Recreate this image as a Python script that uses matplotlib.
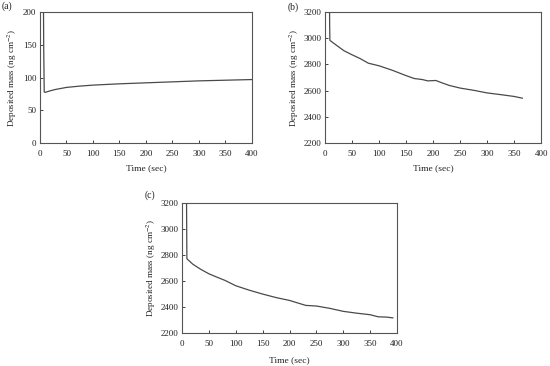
import matplotlib
matplotlib.use("Agg")
import matplotlib.pyplot as plt

plt.rcParams['font.family'] = ['Liberation Serif', 'DejaVu Serif']
plt.rcParams['mathtext.fontset'] = 'stix'

# Panel (a)
a_time = [6, 7, 8, 10, 20, 30, 50, 75, 100, 150, 200, 250, 300, 350, 400]
a_mass = [300, 150, 78, 77.5, 80, 82, 85, 87, 88.5, 90.5, 92, 93.5, 95, 96, 97]
# Panel (b)
b_time = [8, 8.5, 9, 20, 35, 50, 65, 80, 100, 125, 150, 165, 180, 190, 205, 215, 230, 250, 275, 300, 325, 350, 365]
b_mass = [3500, 3100, 2984, 2950, 2905, 2874, 2845, 2810, 2790, 2755, 2715, 2693, 2685, 2675, 2678, 2662, 2640, 2620, 2603, 2583, 2570, 2556, 2543]
# Panel (c)
c_time = [8, 8.5, 9, 20, 35, 50, 65, 80, 100, 125, 150, 175, 200, 215, 230, 250, 275, 300, 325, 350, 365, 380, 392]
c_mass = [3500, 3100, 2772, 2730, 2690, 2656, 2630, 2605, 2564, 2530, 2500, 2473, 2451, 2432, 2413, 2408, 2390, 2367, 2353, 2341, 2325, 2323, 2317]

panels = [
    ("(a)", a_time, a_mass, (0, 200), [0, 50, 100, 150, 200],
     [0.0727, 0.609, 0.385, 0.358], -0.13, -0.19, (-0.18, 1.046)),
    ("(b)", b_time, b_mass, (2200, 3200), [2200, 2400, 2600, 2800, 3000, 3200],
     [0.591, 0.609, 0.393, 0.358], -0.14, -0.19, (-0.171, 1.04)),
    ("(c)", c_time, c_mass, (2200, 3200), [2200, 2400, 2600, 2800, 3000, 3200],
     [0.331, 0.090, 0.391, 0.355], -0.143, -0.21, (-0.172, 1.06)),
]
x_ticks = [0, 50, 100, 150, 200, 250, 300, 350, 400]

fig = plt.figure(figsize=(5.5, 3.66), dpi=100)
for label, t, m, ylim, yt, rect, ylx, xly, lab in panels:
    ax = fig.add_axes(rect)
    ax.plot(t, m, color='#4a4a4a', lw=0.9)
    ax.set_xlim(0, 400)
    ax.set_ylim(*ylim)
    ax.set_xticks(x_ticks)
    ax.set_yticks(yt)
    ax.tick_params(direction='in', length=2, width=0.6, labelsize=6.5, colors='#222222')
    ax.tick_params(axis='x', pad=5)
    ax.tick_params(axis='y', pad=2.5)
    for s in ax.spines.values():
        s.set_color('#555555')
        s.set_linewidth(0.8)
    ax.set_xlabel('Time (sec)', fontsize=6.8, color='#222222')
    ax.set_ylabel('Deposited mass (ng cm$^{-2}$)', fontsize=6.6, color='#222222')
    ax.yaxis.set_label_coords(ylx, 0.5)
    ax.xaxis.set_label_coords(0.5, xly)
    ax.xaxis.label.set_va('center')
    ax.yaxis.label.set_va('center')
    ax.text(lab[0], lab[1], label, transform=ax.transAxes,
            fontsize=7, ha='left', va='center', color='#222222')

fig.savefig('out.png', dpi=100)
